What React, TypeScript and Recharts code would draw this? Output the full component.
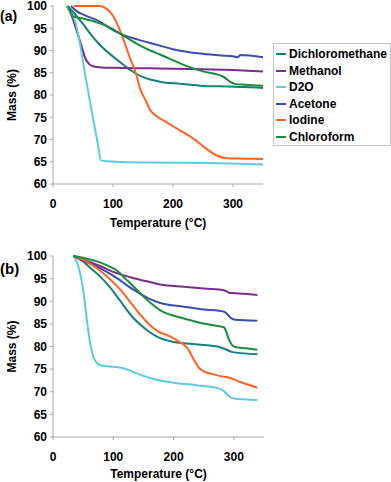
import React from 'react';
import { LineChart, Line, XAxis, YAxis, Legend } from 'recharts';

// solvent names and line colours (legend order)
const solvents = ['Dichloromethane', 'Methanol', 'D2O', 'Acetone', 'Iodine', 'Chloroform'];
const solventColors = ['#177f7b', '#7d2b8d', '#5ecbe2', '#3a4db2', '#ff6422', '#1b8c3d'];

const tempTicks = [0, 100, 200, 300];
const massTicks = [60, 65, 70, 75, 80, 85, 90, 95, 100];

// panel (a): [temperature °C, mass %]
const dcmA = [[24, 100], [30, 99.2], [40, 97.6], [50, 96], [62, 93.8], [80, 91], [106, 88], [130, 85.5], [150, 84], [178, 83], [212, 82.5], [245, 82.1], [290, 81.9], [320, 81.8], [350, 81.6]];
const methanolA = [[23, 100], [30, 98.2], [40, 94.2], [48, 90.8], [54, 88.2], [60, 87], [68, 86.4], [80, 86.2], [100, 86.1], [160, 86], [250, 85.8], [300, 85.6], [350, 85.3]];
const d2oA = [[23, 100], [30, 98.5], [37, 96.5], [45, 91.5], [55, 83.5], [65, 76], [75, 68.8], [80, 65.3], [90, 65.1], [123, 64.9], [200, 64.8], [300, 64.6], [350, 64.4]];
const acetoneA = [[30, 100], [40, 98.8], [50, 98.1], [78, 96.5], [100, 94.6], [112, 93.8], [140, 92.5], [162, 91.7], [178, 91.1], [200, 90.3], [245, 89.3], [280, 88.9], [300, 88.7], [308, 88.5], [312, 89], [350, 88.5]];
const chloroformA = [[25, 100], [30, 98.5], [34, 97.6], [50, 97.2], [78, 96.1], [100, 94.8], [112, 93.8], [140, 91.5], [162, 90], [178, 89.1], [223, 86.5], [250, 85.3], [284, 84.1], [295, 83], [303, 82.5], [320, 82.3], [350, 82.1]];
const iodineA = [[35, 100], [78, 100], [90, 99.3], [100, 97.8], [112, 94.4], [120, 91.5], [128, 88.4], [137, 85.4], [145, 81.5], [155, 78.6], [162, 76.6], [172, 75.3], [184, 74.3], [212, 72], [234, 70.2], [255, 68], [273, 66.4], [290, 65.8], [320, 65.7], [350, 65.6]];

// panel (b)
const dcmB = [[34, 100], [50, 98.8], [65, 97], [78, 95.5], [95, 93], [112, 90], [130, 86.8], [145, 84.8], [160, 83.2], [175, 82], [200, 81], [217, 80.7], [273, 80], [284, 79.5], [300, 78.7], [339, 78.3]];
const methanolB = [[34, 100], [50, 99.2], [78, 97.8], [100, 96.5], [120, 95.6], [134, 95.1], [162, 94.2], [178, 93.7], [217, 93.2], [250, 92.8], [285, 92.4], [292, 91.9], [300, 91.8], [339, 91.4]];
const d2oB = [[34, 100], [40, 98.5], [45, 96.2], [50, 92.5], [53, 89.5], [56, 86], [59, 83], [63, 79.8], [67, 77.8], [73, 76.3], [80, 75.8], [95, 75.6], [117, 75.2], [140, 74], [162, 73], [200, 72], [240, 71.4], [273, 70.8], [283, 70.2], [292, 69], [300, 68.5], [320, 68.3], [339, 68.2]];
const acetoneB = [[34, 100], [50, 99], [78, 97.3], [106, 95.1], [134, 92.5], [162, 90.4], [178, 89.6], [217, 88.8], [250, 88.2], [284, 87.7], [290, 87], [296, 86.2], [302, 85.9], [339, 85.7]];
const iodineB = [[34, 100], [50, 99.2], [65, 98], [78, 96.8], [95, 94.8], [112, 92.5], [130, 89.5], [145, 87], [160, 84.8], [175, 83.3], [195, 82.2], [212, 80.8], [222, 79.8], [234, 77], [242, 75.3], [250, 74.5], [265, 73.9], [280, 73.4], [295, 73], [310, 72.2], [339, 70.9]];
const chloroformB = [[34, 100], [50, 99.6], [78, 98.6], [95, 97.6], [106, 96.8], [120, 95], [134, 93.2], [148, 91.3], [162, 89.6], [178, 88], [200, 86.8], [217, 86.2], [245, 85.2], [278, 84.4], [284, 84.2], [288, 83], [292, 81.5], [296, 80.5], [302, 79.9], [320, 79.6], [339, 79.3]];

const panelA = [dcmA, methanolA, d2oA, acetoneA, iodineA, chloroformA];
const panelB = [dcmB, methanolB, d2oB, acetoneB, iodineB, chloroformB];

const font = 'Arial, "Liberation Sans", sans-serif';
const axisGrey = '#a6a6a6';
const tickStyle = { fill: '#000', fontSize: 12, fontWeight: 'bold', fontFamily: font };

const toPoints = (pairs: number[][]) => pairs.map(([t, m]) => ({ t, m }));

// keep the legend in series order (recharts sorts by name otherwise)
const LegendBox = ({ payload }: any) => {
  const items = [...(payload || [])].sort((a: any, b: any) => solvents.indexOf(a.value) - solvents.indexOf(b.value));
  return (
    <div
      style={{
        border: '1px solid #c4c4c4',
        background: '#fff',
        padding: '2px 0 0 0',
        fontFamily: font,
        fontSize: 12,
        fontWeight: 'bold',
        color: '#000',
      }}
    >
      {items.map((p: any) => (
        <div key={p.value} style={{ height: 16.5, lineHeight: '16.5px', display: 'flex', alignItems: 'center' }}>
          <span style={{ display: 'inline-block', width: 10, height: 2, background: p.color, margin: '0 3px 0 2px' }} />
          <span>{p.value}</span>
        </div>
      ))}
    </div>
  );
};

interface PanelProps {
  curves: number[][][];
  height: number;
  marginTop: number;
  marginBottom: number;
  xAxisHeight: number;
  titleOffset: number;
  rightEdge: number;
  withLegend?: boolean;
}

const Panel: React.FC<PanelProps> = ({ curves, height, marginTop, marginBottom, xAxisHeight, titleOffset, rightEdge, withLegend }) => (
  <LineChart
    width={391}
    height={height}
    margin={{ top: marginTop, right: 391 - rightEdge, left: 0, bottom: marginBottom }}
    style={{ fontFamily: font }}
  >
    <XAxis
      type="number"
      dataKey="t"
      domain={[0, 350]}
      ticks={tempTicks}
      interval={0}
      height={xAxisHeight}
      tickSize={3}
      tickMargin={12}
      tick={tickStyle}
      axisLine={{ stroke: axisGrey }}
      tickLine={{ stroke: axisGrey }}
      label={{
        value: 'Temperature (°C)',
        position: 'insideBottom',
        offset: titleOffset,
        style: { fill: '#000', fontSize: 12, fontWeight: 'bold', fontFamily: font },
      }}
    />
    <YAxis
      type="number"
      domain={[60, 100]}
      ticks={massTicks}
      interval={0}
      width={53}
      tickSize={3}
      tickMargin={3}
      tick={tickStyle}
      axisLine={{ stroke: axisGrey }}
      tickLine={{ stroke: axisGrey }}
      label={{
        value: 'Mass (%)',
        angle: -90,
        position: 'insideLeft',
        offset: 12,
        style: { textAnchor: 'middle', fill: '#000', fontSize: 12, fontWeight: 'bold', fontFamily: font },
      }}
    />
    {curves.map((pairs, i) => (
      <Line
        key={solvents[i]}
        data={toPoints(pairs)}
        dataKey="m"
        name={solvents[i]}
        type="monotone"
        stroke={solventColors[i]}
        strokeWidth={2}
        dot={false}
        activeDot={false}
        isAnimationActive={false}
      />
    ))}
    {withLegend && (
      <Legend
        layout="vertical"
        align="center"
        verticalAlign="middle"
        content={<LegendBox />}
        wrapperStyle={{ top: 43, left: 273, width: 118, height: 'auto' }}
      />
    )}
  </LineChart>
);

const tagStyle: React.CSSProperties = {
  position: 'absolute',
  left: 0,
  fontFamily: font,
  fontWeight: 'bold',
  lineHeight: '16px',
  color: '#000',
};

export default function App() {
  return (
    <div style={{ position: 'absolute', left: 0, top: 0, width: 391, height: 482, overflow: 'hidden', background: '#fff' }}>
      <div style={{ position: 'absolute', left: 0, top: 0 }}>
        <Panel curves={panelA} height={240} marginTop={6} marginBottom={8} xAxisHeight={48} titleOffset={5} rightEdge={263} withLegend />
      </div>
      <div style={{ position: 'absolute', left: 0, top: 240 }}>
        <Panel curves={panelB} height={242} marginTop={16} marginBottom={0} xAxisHeight={45} titleOffset={4} rightEdge={264} />
      </div>
      <div style={{ ...tagStyle, top: 8, fontSize: 14 }}>(a)</div>
      <div style={{ ...tagStyle, top: 261, fontSize: 15 }}>(b)</div>
    </div>
  );
}
